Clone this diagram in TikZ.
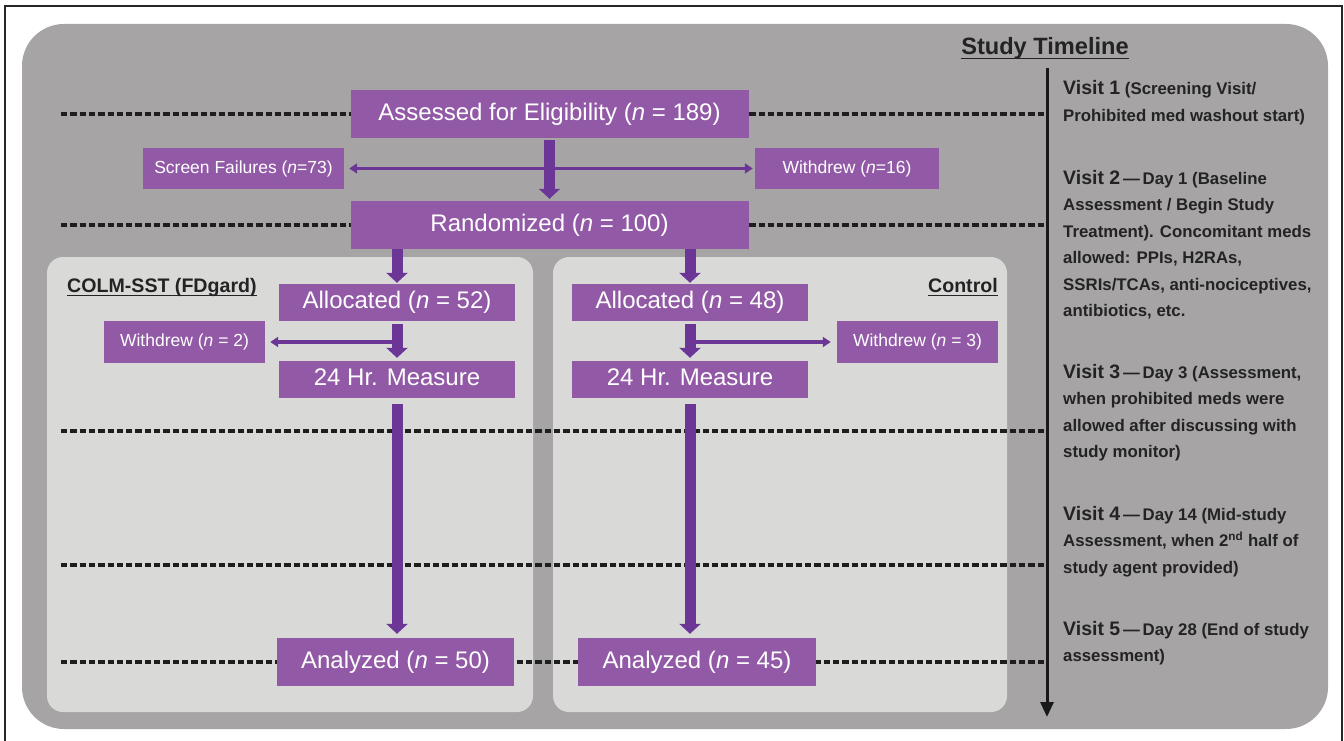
\documentclass[tikz,border=0pt]{standalone}
\usepackage{fontspec}
\setmainfont{Liberation Sans}
\usetikzlibrary{arrows.meta,calc}
\definecolor{boxfill}{RGB}{146,90,166}
\definecolor{arrowcol}{RGB}{108,54,150}
\definecolor{outergray}{RGB}{166,164,165}
\definecolor{panelgray}{RGB}{217,217,216}
\definecolor{dotcol}{RGB}{30,30,30}
\definecolor{textdark}{RGB}{35,35,35}
\newcommand{\ulbar}[1]{\setbox0\hbox{#1}\rlap{\vrule height -2.6pt depth 4.4pt width \wd0}\box0}
\newcommand{\visitlabel}[1]{{\fontsize{19.5}{26.5}\selectfont Visit #1}}
\tikzset{
  pbox/.style={fill=boxfill,text=white,inner sep=0pt,font=\fontsize{24}{28}\selectfont,text height=17.5pt,text depth=5pt},
  sbox/.style={fill=boxfill,text=white,inner sep=0pt,font=\fontsize{17.5}{20}\selectfont,text height=12.8pt,text depth=3.7pt},
  fatarrow/.style={draw=arrowcol,line width=11pt,-{Triangle[width=21pt,length=10pt]}},
  thinarrow/.style={draw=arrowcol,line width=3.5pt,-{Triangle[width=10pt,length=8pt]}},
  dotline/.style={draw=dotcol,line width=3.5pt,dash pattern=on 6.3pt off 3pt},
  visit/.style={anchor=base west,align=left,inner sep=0pt,text=textdark,font=\bfseries\fontsize{16.8}{26.5}\selectfont},
  grouplabel/.style={inner sep=0pt,text=textdark,font=\bfseries\fontsize{19.6}{22}\selectfont},
}
\begin{document}
\begin{tikzpicture}[x=1pt,y=-1pt]
\useasboundingbox (0,0) rectangle (1344,741);
% frame
\draw[line width=1.2pt,black!85] (5,750) -- (5,6) -- (1342,6) -- (1342,750);
% backgrounds
\fill[outergray,rounded corners=42pt] (22,24) rectangle (1328,729);
\fill[panelgray,rounded corners=16pt] (47,257) rectangle (533,712);
\fill[panelgray,rounded corners=16pt] (553,257) rectangle (1007,712);
% timeline
\coordinate (tltop) at (1047,68);
\coordinate (tlbot) at (1047,717);
\foreach \yy in {114,225,431,565,662}{
  \draw[dotline] (61,\yy) -- (1047,\yy);
}
\draw[line width=3pt,black!90,-{Triangle[width=13pt,length=15pt]}] (tltop) -- (tlbot);
\node[anchor=base,inner sep=0pt,text=textdark,font=\bfseries\fontsize{23.6}{26}\selectfont] (title) at (1045,55) {\ulbar{Study Timeline}};
% visit texts (anchored at the baseline of their last line)
\node[visit] (v1) at (1063,121.5) {\visitlabel{1} (Screening Visit/\\Prohibited med washout start)};
\node[visit] (v2) at (1063,316.5) {\visitlabel{2}\,—\,Day 1 (Baseline\\Assessment / Begin Study\\Treatment). Concomitant meds\\allowed: PPIs, H2RAs,\\SSRIs/TCAs, anti-nociceptives,\\antibiotics, etc.};
\node[visit] (v3) at (1063,457.5) {\visitlabel{3}\,—\,Day 3 (Assessment,\\when prohibited meds were\\allowed after discussing with\\study monitor)};
\node[visit] (v4) at (1063,573) {\visitlabel{4}\,—\,Day 14 (Mid-study\\Assessment, when 2\textsuperscript{nd} half of\\study agent provided)};
\node[visit] (v5) at (1063,661.5) {\visitlabel{5}\,—\,Day 28 (End of study\\assessment)};
% group labels
\node[grouplabel,anchor=base west] (glL) at (67,292) {\ulbar{COLM-SST (FDgard)}};
\node[grouplabel,anchor=base east] (glR) at (998,292) {\ulbar{Control}};
% boxes
\node[pbox,minimum width=398pt,minimum height=48pt] (assess) at (549.5,114) {Assessed for Eligibility (\textit{n} = 189)};
\node[sbox,minimum width=201pt,minimum height=41pt] (screen) at (243.5,168.5) {Screen Failures (\textit{n}=73)};
\node[sbox,minimum width=184pt,minimum height=41pt] (wd16) at (847,168.5) {Withdrew (\textit{n}=16)};
\node[pbox,minimum width=398pt,minimum height=48pt] (rand) at (549.5,225) {Randomized (\textit{n} = 100)};
\node[pbox,minimum width=236pt,minimum height=37pt] (allocL) at (397,302.5) {Allocated (\textit{n} = 52)};
\node[pbox,minimum width=236pt,minimum height=37pt] (allocR) at (690,302.5) {Allocated (\textit{n} = 48)};
\node[sbox,minimum width=161pt,minimum height=42pt] (wdL) at (184.5,342) {Withdrew (\textit{n} = 2)};
\node[sbox,minimum width=161pt,minimum height=42pt] (wdR) at (917.5,342) {Withdrew (\textit{n} = 3)};
\node[pbox,minimum width=236pt,minimum height=37pt] (hL) at (397,379.5) {24 Hr. Measure};
\node[pbox,minimum width=236pt,minimum height=37pt] (hR) at (690,379.5) {24 Hr. Measure};
\node[pbox,minimum width=237pt,minimum height=48pt] (anL) at (395.5,662) {Analyzed (\textit{n} = 50)};
\node[pbox,minimum width=238pt,minimum height=48pt] (anR) at (697,662) {Analyzed (\textit{n} = 45)};
% arrows
\draw[fatarrow,shorten <=2pt,shorten >=2pt] (assess.south) -- (rand.north);
\draw[draw=arrowcol,line width=3.5pt,{Triangle[width=10pt,length=8pt]}-{Triangle[width=10pt,length=8pt]},shorten <=5pt,shorten >=2pt] (screen.east) -- (wd16.west);
\draw[fatarrow,shorten >=1pt] (rand.south -| allocL.north) -- (allocL.north);
\draw[fatarrow,shorten >=1pt] (rand.south -| allocR.north) -- (allocR.north);
\draw[fatarrow,shorten <=3pt,shorten >=3pt] (allocL.south) -- (hL.north);
\draw[fatarrow,shorten <=3pt,shorten >=3pt] (allocR.south) -- (hR.north);
\draw[thinarrow,shorten >=5pt] (allocL.south |- wdL.east) -- (wdL.east);
\draw[thinarrow,shorten >=6pt] (allocR.south |- wdR.west) -- (wdR.west);
\draw[fatarrow,shorten <=6pt,shorten >=4pt] (hL.south) -- (hL.south |- anL.north);
\draw[fatarrow,shorten <=6pt,shorten >=4pt] (hR.south) -- (hR.south |- anR.north);
\end{tikzpicture}
\end{document}
